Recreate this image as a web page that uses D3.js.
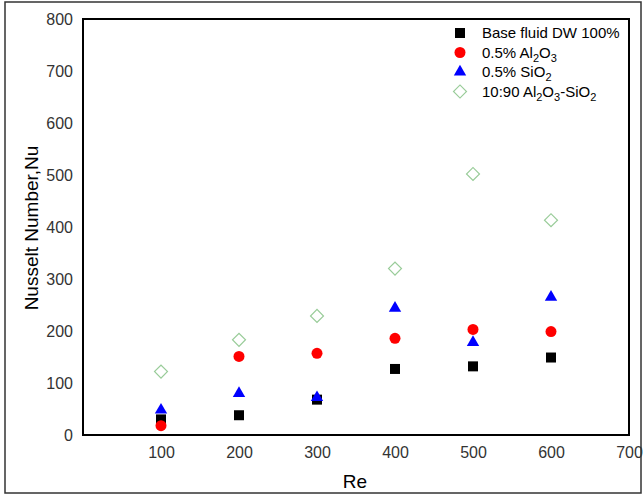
<!DOCTYPE html>
<html>
<head>
<meta charset="utf-8">
<script src="https://cdn.jsdelivr.net/npm/d3@7"></script>
<style>
  body { margin: 0; background: #fff; }
  text { font-family: "Liberation Sans", Arial, sans-serif; }
</style>
</head>
<body>
<div id="chart"></div>
<script>
// data
var reValues = [100, 200, 300, 400, 500, 600];
var baseFluid = [30, 38, 68, 127, 132, 149];
var al2o3 = [18, 151, 157, 186, 203, 199];
var sio2 = [48, 80, 72, 244, 178, 265];
var hybrid = [122, 183, 229, 320, 502, 413];
var xTicks = [100, 200, 300, 400, 500, 600, 700];
var yTicks = [0, 100, 200, 300, 400, 500, 600, 700, 800];

var W = 643, H = 495;
var margin = {top: 19, right: 14, bottom: 60, left: 83},
    width = W - margin.left - margin.right,
    height = H - margin.top - margin.bottom;

var svg = d3.select("#chart").append("svg")
    .attr("width", W)
    .attr("height", H);

// outer frame
svg.append("rect")
    .attr("x", 5).attr("y", 2)
    .attr("width", 636).attr("height", 491)
    .attr("fill", "none")
    .attr("stroke", "#333")
    .attr("stroke-width", 1.5);

var g = svg.append("g")
    .attr("transform", "translate(" + margin.left + "," + margin.top + ")");

var x = d3.scaleLinear().domain([0, 700]).range([0, width]);
var y = d3.scaleLinear().domain([0, 800]).range([height, 0]);

// axes, labels only
var xAxis = d3.axisBottom(x).tickValues(xTicks).tickSize(0).tickPadding(12);
var yAxis = d3.axisLeft(y).tickValues(yTicks).tickSize(0).tickPadding(10);

g.append("g")
    .attr("transform", "translate(0," + height + ")")
    .call(xAxis)
    .call(s => s.select(".domain").remove())
    .selectAll("text")
    .attr("fill", "#333")
    .style("font-size", "16px");

g.append("g")
    .call(yAxis)
    .call(s => s.select(".domain").remove())
    .selectAll("text")
    .attr("fill", "#333")
    .style("font-size", "16px");

// plot frame
g.append("rect")
    .attr("x", 0).attr("y", 0)
    .attr("width", width).attr("height", height)
    .attr("fill", "none")
    .attr("stroke", "#000")
    .attr("stroke-width", 2);

var series = [
    {name: "base", values: baseFluid, shape: d3.symbolSquare, size: 100, fill: "#000", stroke: "none", rot: 0},
    {name: "al", values: al2o3, shape: d3.symbolCircle, size: 95, fill: "#ff0000", stroke: "none", rot: 0},
    {name: "si", values: sio2, shape: d3.symbolTriangle, size: 66, fill: "#0000ff", stroke: "none", rot: 0},
    {name: "hy", values: hybrid, shape: d3.symbolSquare, size: 84, fill: "#fff", stroke: "#99cc99", rot: 45}
];

series.forEach(function(s) {
    var sym = d3.symbol().type(s.shape).size(s.size);
    g.selectAll(".pt-" + s.name)
        .data(s.values)
        .enter().append("path")
        .attr("class", "pt-" + s.name)
        .attr("d", sym)
        .attr("transform", function(d, i) {
            return "translate(" + x(reValues[i]) + "," + y(d) + ") rotate(" + s.rot + ")";
        })
        .attr("fill", s.fill)
        .attr("stroke", s.stroke)
        .attr("stroke-width", 1.2);
});

// legend (text runs, 1 = subscript)
var legendParts = [
    [["Base fluid DW 100%", 0]],
    [["0.5% Al", 0], ["2", 1], ["O", 0], ["3", 1]],
    [["0.5% SiO", 0], ["2", 1]],
    [["10:90 Al", 0], ["2", 1], ["O", 0], ["3", 1], ["-SiO", 0], ["2", 1]]
];

var legend = svg.append("g");
series.forEach(function(s, i) {
    var cy = 33 + i * 19.5;
    var sym = d3.symbol().type(s.shape).size(s.size);
    legend.append("path")
        .attr("d", sym)
        .attr("transform", "translate(460," + cy + ") rotate(" + s.rot + ")")
        .attr("fill", s.fill)
        .attr("stroke", s.stroke)
        .attr("stroke-width", 1.2);
    var t = legend.append("text")
        .attr("x", 482)
        .attr("y", cy + 5)
        .style("font-size", "15px")
        .attr("fill", "#000");
    var prevSub = 0;
    legendParts[i].forEach(function(p) {
        t.append("tspan")
            .attr("dy", (p[1] ? 4 : 0) - (prevSub ? 4 : 0))
            .style("font-size", p[1] ? "11px" : "15px")
            .text(p[0]);
        prevSub = p[1];
    });
});

// axis titles
svg.append("text")
    .attr("x", 355)
    .attr("y", 488)
    .attr("text-anchor", "middle")
    .style("font-size", "19px")
    .text("Re");

svg.append("text")
    .attr("transform", "translate(38,228) rotate(-90)")
    .attr("text-anchor", "middle")
    .style("font-size", "19px")
    .text("Nusselt Number,Nu");
</script>
</body>
</html>
